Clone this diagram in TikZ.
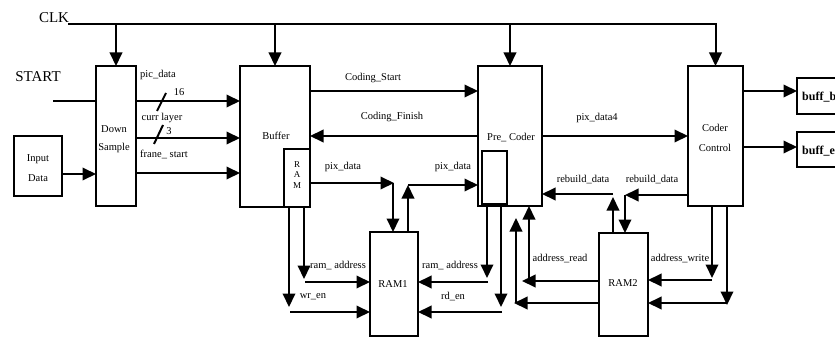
\documentclass[tikz,border=0pt]{standalone}
\usepackage{fontspec}
\setmainfont{Liberation Serif}
\usetikzlibrary{arrows.meta}
\begin{document}
\begin{tikzpicture}[x=1pt,y=-1pt,
  box/.style={draw, line width=2pt, inner sep=0pt, outer sep=0pt},
  wire/.style={line width=2pt},
  arr/.style={-{Triangle[length=13.5pt,width=12.5pt]}},
  lbl/.style={font=\fontsize{10.5}{12}\selectfont, inner sep=0pt},
  big/.style={font=\fontsize{15}{17}\selectfont, inner sep=0pt},
  bold/.style={font=\fontsize{12}{14}\selectfont\bfseries, inner sep=0pt, anchor=west},
  ramlbl/.style={font=\fontsize{9}{10}\selectfont, inner sep=0pt}]
\useasboundingbox (0,0) rectangle (835,337);
\clip (0,0) rectangle (835,337);

% boxes
\node[box, minimum width=48pt, minimum height=60pt] (input) at (38,166) {};
\node[box, minimum width=40pt, minimum height=140pt] (ds) at (116,136) {};
\node[box, minimum width=70pt, minimum height=141pt] (buffer) at (275,136.5) {};
\node[box, minimum width=26pt, minimum height=58pt] (ram) at (297,178) {};
\node[box, minimum width=64pt, minimum height=140pt] (pre) at (510,136) {};
\node[box, minimum width=25pt, minimum height=53pt] (preram) at (494.5,177.5) {};
\node[box, minimum width=55pt, minimum height=140pt] (cc) at (715.5,136) {};
\node[box, minimum width=60pt, minimum height=36pt] (buffb) at (827,96) {};
\node[box, minimum width=60pt, minimum height=35pt] (buffe) at (827,149.5) {};
\node[box, minimum width=48pt, minimum height=104pt] (ram1) at (394,284) {};
\node[box, minimum width=49pt, minimum height=103pt] (ram2) at (623.5,284.5) {};

% box texts
\node[lbl] (inputt1) at (38,159) {Input};
\node[lbl] (inputt2) at (38,178) {Data};
\node[lbl] (dst1) at (114,129) {Down};
\node[lbl] (dst2) at (114,148) {Sample};
\node[lbl] (buffert) at (276,136) {Buffer};
\node[ramlbl] (ramr) at (297,165) {R};
\node[ramlbl] (rama) at (297,175) {A};
\node[ramlbl] (ramm) at (297,186) {M};
\node[lbl] (pret) at (511,138) {Pre\_ Coder};
\node[lbl] (cct1) at (715,128) {Coder};
\node[lbl] (cct2) at (715,148) {Control};
\node[lbl] (ram1t) at (393,284) {RAM1};
\node[lbl] (ram2t) at (623,283) {RAM2};
\node[bold] (buffbt) at (802,97) {buff\_b};
\node[bold] (buffet) at (802,151) {buff\_e};

% CLK and START
\node[big] (clk) at (54,18) {CLK};
\node[big] (start) at (38,77) {START};
\coordinate (clkin) at (68,24);
\draw[wire,arr] (clkin) -| (cc.north);
\foreach \n in {ds,buffer,pre} \draw[wire,arr] (\n.north |- clkin) -- (\n.north);
\coordinate (startin) at (53,101);
\draw[wire] (startin) -- (ds.west |- startin);

% input to down sample
\draw[wire,arr] (input.east |- 0,174) -- (ds.west |- 0,174);

% down sample to buffer
\draw[wire,arr] (ds.east |- 0,101) -- (buffer.west |- 0,101);
\draw[wire,arr] (ds.east |- 0,138) -- (buffer.west |- 0,138);
\draw[wire,arr] (ds.east |- 0,173) -- (buffer.west |- 0,173);
\draw[wire] (157,111) -- (166,93);
\draw[wire] (154,144) -- (163,125);
\node[lbl] (l_pic) at (158,75) {pic\_data};
\node[lbl] (l_16) at (179,92) {16};
\node[lbl] (l_curr) at (162,118) {curr layer};
\node[lbl] (l_3) at (169,131) {3};
\node[lbl] (l_frane) at (164,154) {frane\_ start};

% buffer <-> pre coder
\draw[wire,arr] (buffer.east |- 0,91) -- (pre.west |- 0,91);
\draw[wire,arr] (pre.west |- 0,136) -- (buffer.east |- 0,136);
\node[lbl] (l_cs) at (373,78) {Coding\_Start};
\node[lbl] (l_cf) at (392,117) {Coding\_Finish};

% pre coder -> coder control
\draw[wire,arr] (pre.east |- 0,136) -- (cc.west |- 0,136);
\node[lbl] (l_pd4) at (597,118) {pix\_data4};

% coder control -> buff
\draw[wire,arr] (cc.east |- 0,91) -- (buffb.west |- 0,91);
\draw[wire,arr] (cc.east |- 0,147) -- (buffe.west |- 0,147);

% RAM -> RAM1 pix_data
\coordinate (pd1) at (394,183);
\draw[wire,arr] (ram.east |- pd1) -- (pd1);
\draw[wire,arr] ([xshift=-1pt]pd1) -- ([xshift=-1pt]pd1 |- ram1.north);
\node[lbl] (l_pd1) at (343,167) {pix\_data};

% RAM1 -> Pre coder pix_data
\coordinate (pd2) at (408,185);
\draw[wire,arr] (pd2 |- ram1.north) -- (pd2);
\draw[wire,arr] (pd2) -- (pre.west |- pd2);
\node[lbl] (l_pd2) at (453,167) {pix\_data};

% RAM -> RAM1 address / wr_en
\coordinate (ra1) at (304,279);
\draw[wire,arr] (ram.south -| ra1) -- (ra1);
\draw[wire,arr] (305,282) -- (ram1.west |- 0,282);
\coordinate (we1) at (289,307);
\draw[wire,arr] (ram.south -| we1) -- (we1);
\draw[wire,arr] (290,312) -- (ram1.west |- 0,312);
\node[lbl] (l_ra1) at (338,266) {ram\_ address};
\node[lbl] (l_we) at (313,297) {wr\_en};

% Pre coder -> RAM1 address / rd_en
\coordinate (ra2) at (487,278);
\draw[wire,arr] (pre.south -| ra2) -- (ra2);
\draw[wire,arr] (488,282) -- (ram1.east |- 0,282);
\coordinate (re1) at (501,307);
\draw[wire,arr] (pre.south -| re1) -- (re1);
\draw[wire,arr] (502,312) -- (ram1.east |- 0,312);
\node[lbl] (l_ra2) at (450,266) {ram\_ address};
\node[lbl] (l_rd) at (453,297) {rd\_en};

% RAM2 rebuild data -> pre coder
\coordinate (rb1) at (613,197);
\draw[wire,arr] (rb1 |- ram2.north) -- (rb1);
\draw[wire,arr] (613,194) -- (pre.east |- 0,194);
\node[lbl] (l_rb1) at (583,180) {rebuild\_data};

% coder control rebuild data -> RAM2
\coordinate (rb2) at (625,195);
\draw[wire,arr] (cc.west |- rb2) -- (rb2);
\draw[wire,arr] (rb2) -- (rb2 |- ram2.north);
\node[lbl] (l_rb2) at (652,180) {rebuild\_data};

% RAM2 -> pre coder address read
\draw[wire,arr] (ram2.west |- 0,281) -- (522,281);
\draw[wire,arr] (529,278) -- (529,0 |- pre.south);
\draw[wire,arr] (ram2.west |- 0,303) -- (514,303);
\coordinate (ar2) at (516,218);
\draw[wire,arr] (516,303) -- (ar2);
\node[lbl] (l_ar) at (560,259) {address\_read};

% coder control -> RAM2 address write
\coordinate (aw1) at (712,278);
\draw[wire,arr] (cc.south -| aw1) -- (aw1);
\draw[wire,arr] (712,280) -- (ram2.east |- 0,280);
\coordinate (aw2) at (727,305);
\draw[wire,arr] (cc.south -| aw2) -- (aw2);
\draw[wire,arr] (727,303) -- (ram2.east |- 0,303);
\node[lbl] (l_aw) at (680,259) {address\_write};
\end{tikzpicture}
\end{document}
